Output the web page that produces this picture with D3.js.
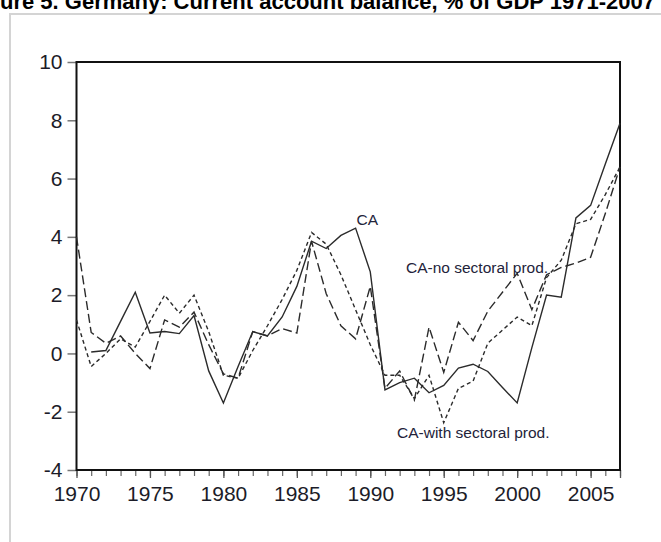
<!DOCTYPE html>
<html>
<head>
<meta charset="utf-8">
<script src="https://cdn.jsdelivr.net/npm/d3@7"></script>
<style>
  body { margin: 0; background: #fff; overflow: hidden; }
  text { font-family: Arial, 'Liberation Sans', sans-serif; }
</style>
</head>
<body>
<script>
var years = d3.range(1970, 2008)

// current account, % of GDP (solid)
var ca = [null, 0.05, 0.1, 1.1, 2.1, 0.7, 0.75, 0.68, 1.3, -0.6,
  -1.7, -0.45, 0.75, 0.6, 1.25, 2.3, 3.85, 3.6, 4.05, 4.3,
  2.8, -1.25, -1.0, -0.85, -1.35, -1.1, -0.5, -0.37, -0.62, -1.17,
  -1.7, 0.2, 2.0, 1.93, 4.65, 5.08, 6.5, 7.9]

// model without sectoral productivity (long dash)
var caNoSect = [4.0, 0.72, 0.35, 0.6, 0.0, -0.52, 1.15, 0.9, 1.42, 0.3,
  -0.7, -0.85, 0.75, 0.6, 0.85, 0.7, 3.85, 2.05, 0.95, 0.5,
  2.3, -1.2, -0.6, -1.6, 0.9, -0.65, 1.07, 0.44, 1.45, 2.1,
  2.75, 1.5, 2.7, 2.95, 3.1, 3.3, 4.8, 6.4]

// model with sectoral productivity (short dash)
var caWithSect = [1.15, -0.45, 0.0, 0.5, 0.22, 1.1, 2.0, 1.38, 2.0, 0.75,
  -0.75, -0.85, 0.1, 0.95, 1.85, 2.85, 4.15, 3.75, 2.7, 1.5,
  0.3, -0.75, -0.75, -1.55, -0.75, -2.38, -1.2, -0.95, 0.35, 0.8,
  1.25, 0.95, 2.6, 3.2, 4.45, 4.6, 5.45, 6.4]

var yTicks = [-4, -2, 0, 2, 4, 6, 8, 10]
var xLabels = [1970, 1975, 1980, 1985, 1990, 1995, 2000, 2005]

var margin = {top: 62, right: 41, bottom: 72, left: 76.5}
var width = 661 - margin.left - margin.right
var height = 542 - margin.top - margin.bottom

var svg = d3.select('body').append('svg')
  .attr('width', 661)
  .attr('height', 542)

// light page border
svg.append('path')
  .attr('d', 'M10,560 L10,14 L680,14')
  .attr('fill', 'none')
  .attr('stroke', '#d4d4d4')
  .attr('stroke-width', 2)

// title, cut off by the page edge as in the source
var title = svg.append('text')
  .attr('y', 9)
  .attr('font-size', 22)
  .attr('font-weight', 'bold')
  .attr('fill', '#000')
  .text('Figure 5. Germany: Current account balance, % of GDP  1971-2007')
title.attr('x', -title.node().getSubStringLength(0, 3))

var g = svg.append('g')
  .attr('transform', `translate(${margin.left}, ${margin.top})`)

var x = d3.scaleLinear().domain([1970, 2007]).range([0, width])
var y = d3.scaleLinear().domain([-4, 10]).range([height, 0])

// y axis
var yAxis = g.append('g')
  .call(d3.axisLeft(y).tickValues(yTicks).tickSize(9).tickPadding(5).tickFormat(d => String(d)))
yAxis.select('.domain').remove()
yAxis.selectAll('line').attr('stroke', '#777').attr('stroke-width', 1.5)
yAxis.selectAll('text').attr('font-size', 21).attr('fill', '#1c1c28').attr('font-family', 'Arial, Liberation Sans, sans-serif')

// x axis, minor ticks every year
var xMinor = g.append('g')
  .attr('transform', `translate(0, ${height})`)
  .call(d3.axisBottom(x).tickValues(years).tickSize(6).tickFormat(''))
xMinor.select('.domain').remove()
xMinor.selectAll('line').attr('stroke', '#666').attr('stroke-width', 1.2)

var xAxis = g.append('g')
  .attr('transform', `translate(0, ${height})`)
  .call(d3.axisBottom(x).tickValues(xLabels.concat([2007])).tickSize(8).tickPadding(8).tickFormat(d => d === 2007 ? '' : String(d)))
xAxis.select('.domain').remove()
xAxis.selectAll('line').attr('stroke', '#555').attr('stroke-width', 1.3)
xAxis.selectAll('text').attr('font-size', 21).attr('fill', '#1c1c28').attr('font-family', 'Arial, Liberation Sans, sans-serif')

// frame
g.append('rect')
  .attr('width', width)
  .attr('height', height)
  .attr('fill', 'none')
  .attr('stroke', '#111')
  .attr('stroke-width', 2)

var line = d3.line()
  .defined(d => d[1] != null)
  .x(d => x(d[0]))
  .y(d => y(d[1]))

var series = [
  {values: ca, dash: null},
  {values: caNoSect, dash: '9,4'},
  {values: caWithSect, dash: '4,3'}
]

series.forEach(function (s) {
  g.append('path')
    .datum(years.map((yr, i) => [yr, s.values[i]]))
    .attr('d', line)
    .attr('fill', 'none')
    .attr('stroke', '#2b2b2b')
    .attr('stroke-width', 1.4)
    .attr('stroke-dasharray', s.dash)
})

// in-plot labels
var labels = [
  {text: 'CA', x: 356.5, y: 225},
  {text: 'CA-no sectoral prod.', x: 406, y: 272.5},
  {text: 'CA-with sectoral prod.', x: 397, y: 437.5}
]
svg.selectAll('.lab')
  .data(labels)
  .enter().append('text')
  .attr('class', 'lab')
  .attr('x', d => d.x)
  .attr('y', d => d.y)
  .attr('font-size', 15.5)
  .attr('fill', '#23233a')
  .text(d => d.text)
</script>
</body>
</html>
